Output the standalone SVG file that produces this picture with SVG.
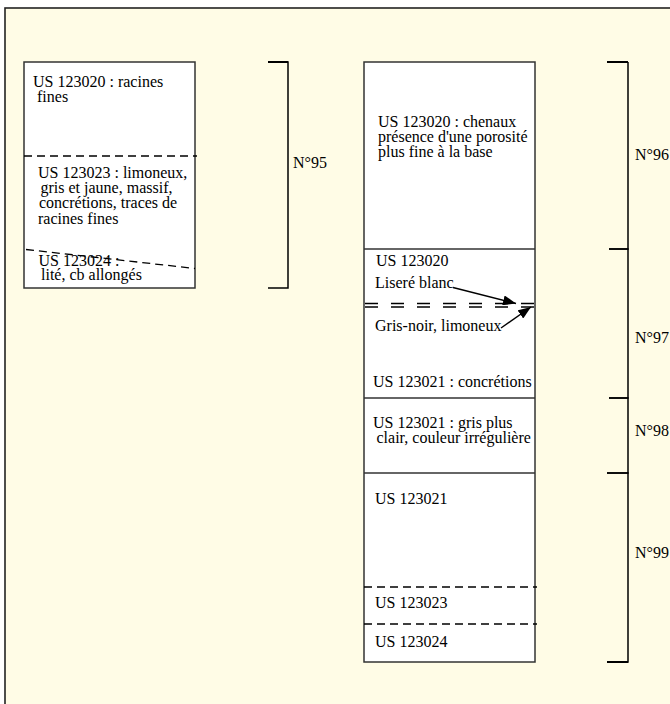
<svg xmlns="http://www.w3.org/2000/svg" width="670" height="704" viewBox="0 0 670 704">
<defs>
<style>
.t{font-family:"Liberation Serif","Times New Roman",serif;font-size:16px;fill:#000}
.box{fill:#fff;stroke:#333;stroke-width:1.5}
.sep{stroke:#333;stroke-width:1.5;fill:none}
.dash{stroke:#000;stroke-width:1.3;stroke-dasharray:8,5;fill:none}
.dd{stroke:#000;stroke-width:1.5;stroke-dasharray:13,13;fill:none}
.br{stroke:#000;stroke-width:1.5;fill:none}
.brt{stroke:#000;stroke-width:2;fill:none}
.arr{stroke:#000;stroke-width:1.4;fill:none;marker-end:url(#ah)}
</style>
<marker id="ah" viewBox="0 0 10 10" refX="10" refY="5" markerWidth="13" markerHeight="10" markerUnits="userSpaceOnUse" orient="auto" preserveAspectRatio="none">
<path d="M0,0 L10,5 L0,10 Z" fill="#000"/>
</marker>
</defs>
<rect x="0" y="0" width="670" height="704" fill="#fff"/>
<rect x="5" y="8" width="700" height="720" fill="#FFFCE6" stroke="#222" stroke-width="1.6"/>

<g id="log95">
<rect class="box" x="24" y="62" width="171" height="226"/>
<line class="dash" x1="24" y1="156" x2="197" y2="156"/>
<line class="dash" x1="26" y1="249.5" x2="195" y2="268.5"/>
<text class="t" x="33" y="87">US 123020 : racines</text>
<text class="t" x="37" y="101.5">fines</text>
<text class="t" x="38" y="178">US 123023 : limoneux,</text>
<text class="t" x="40.5" y="193">gris et jaune, massif,</text>
<text class="t" x="39" y="208">concrétions, traces de</text>
<text class="t" x="38" y="223.5">racines fines</text>
<text class="t" x="38.5" y="266">US 123024 :</text>
<text class="t" x="41" y="280">lité, cb allongés</text>
</g>

<g id="bracket95">
<path class="br" d="M268,62 H288 V288 H268"/>
<line class="brt" x1="268" y1="62" x2="288" y2="62"/>
<text class="t" x="293" y="168">N°95</text>
</g>

<g id="log96-99">
<rect class="box" x="364" y="62" width="171" height="600"/>
<line class="sep" x1="364" y1="249" x2="535" y2="249"/>
<line class="sep" x1="364" y1="398" x2="535" y2="398"/>
<line class="sep" x1="364" y1="473" x2="535" y2="473"/>
<line class="dd" x1="365" y1="303.5" x2="535" y2="303.5"/>
<line class="dd" x1="365" y1="307" x2="535" y2="307"/>
<line class="dash" x1="364" y1="587" x2="537" y2="587"/>
<line class="dash" x1="364" y1="624" x2="537" y2="624"/>
<text class="t" x="378" y="126.5">US 123020 : chenaux</text>
<text class="t" x="378" y="141.5">présence d'une porosité</text>
<text class="t" x="378" y="156.5">plus fine à la base</text>
<text class="t" x="376" y="266">US 123020</text>
<text class="t" x="375" y="288">Liseré blanc</text>
<text class="t" x="375" y="331">Gris-noir, limoneux</text>
<text class="t" x="373" y="387">US 123021 : concrétions</text>
<text class="t" x="373" y="428">US 123021 : gris plus</text>
<text class="t" x="376.5" y="443">clair, couleur irrégulière</text>
<text class="t" x="375" y="503.5">US 123021</text>
<text class="t" x="375" y="608">US 123023</text>
<text class="t" x="375" y="647">US 123024</text>
</g>

<g id="bracket96">
<path class="br" d="M609,249 H628 V62"/>
<line class="brt" x1="607" y1="62" x2="628" y2="62"/>
<text class="t" x="635" y="160">N°96</text>
</g>
<g id="bracket97">
<path class="br" d="M609,249 H628 V398 H609"/>
<text class="t" x="635" y="343">N°97</text>
</g>
<g id="bracket98">
<path class="br" d="M609,398 H628 V473 H607"/>
<text class="t" x="635" y="436">N°98</text>
</g>
<g id="bracket99">
<path class="br" d="M607,473 H628 V662 H607"/>
<line class="brt" x1="607" y1="662" x2="628" y2="662"/>
<text class="t" x="635" y="558">N°99</text>
</g>

<g id="connectors">
<path class="arr" d="M453,287.5 L516,303.5"/>
<path class="arr" d="M501,328 L531,307"/>
</g>
</svg>
